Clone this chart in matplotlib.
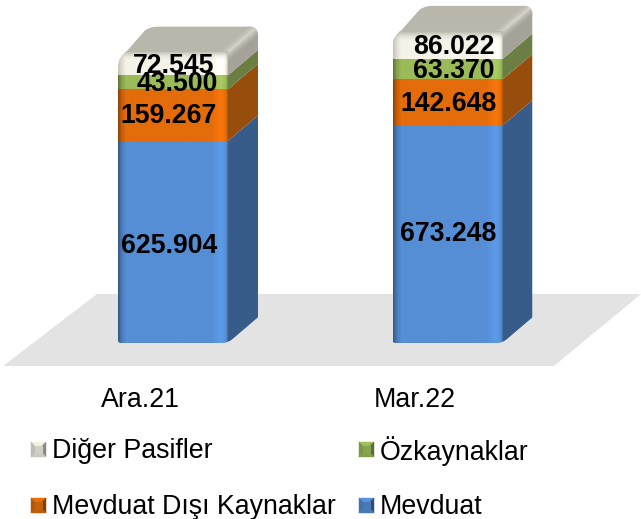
import numpy as np
import matplotlib
matplotlib.use("Agg")
import matplotlib.pyplot as plt
from matplotlib.path import Path
from matplotlib.patches import PathPatch, Polygon

plt.rcParams['font.family'] = ['Liberation Sans', 'DejaVu Sans']

# Data
categories = ["Ara.21", "Mar.22"]
mevduat = [625904, 673248]
mevduat_disi = [159267, 142648]
ozkaynak = [43500, 63370]
diger = [72545, 86022]
series_names = ["Mevduat", "Mevduat Dışı Kaynaklar", "Özkaynaklar", "Diğer Pasifler"]

# Styling: front, side, and label nudges (px)
front_cols = ["#558ed5", "#e46c0a", "#9bbb59", "#eeece1"]
side_cols = ["#375c8a", "#974d0b", "#6b7f45", "#a5a399"]
top_col = "#b9b6ac"
nudge = [[(-4, 4), (-4, 1), (4, 2), (1, 2)],
         [(1, 0), (1, 1), (6, 1.5), (6, 2)]]

W, H = 641, 519
BASE = 343          # px row of value 0
SCALE = 0.000323    # px per unit
STEP = 274.5        # px between categories
X0 = 173            # px of first category
BAR_W = 110 / STEP
DX = 30 / STEP
DY = 25.5 / SCALE
RX = 1 / STEP       # one px in x units
RY = 1 / SCALE      # one px in y units


def rgb(c):
    return np.array(matplotlib.colors.to_rgb(c))


def shade_row(col, edge=0.62):
    # horizontal lighting across the front of a bar
    pos = [0, 0.03, 0.07, 0.85, 0.94, 0.985, 1]
    fac = [edge, 0.85 + (edge - 0.62) * 0.3, 1, 1, 1.1, 1.0, 0.78]
    t = np.linspace(0, 1, 200)
    f = np.interp(t, pos, fac)
    return np.clip(rgb(col)[None, :] * f[:, None], 0, 1)


def silhouette(x0, x1, top):
    r = 9
    verts = [
        (x0, 3 * RY), (x0, 0), (x0 + 3 * RX, 0),
        (x1 - 8 * RX, 0), (x1, 0), (x1 + 5 * RX, 4 * RY),
        (x1 + DX, DY), (x1 + DX, top + DY - r * RY), (x1 + DX, top + DY), (x1 + DX - r * RX, top + DY),
        (x0 + DX + 11 * RX, top + DY), (x0 + DX + 3 * RX, top + DY), (x0 + DX - 3 * RX, top + DY - 4 * RY),
        (x0 + 9 * RX, top + 1 * RY), (x0, top - 5 * RY), (x0, top - 15 * RY),
        (x0, 3 * RY), (x0, 3 * RY),
    ]
    codes = [Path.MOVETO, Path.CURVE3, Path.CURVE3,
             Path.LINETO, Path.CURVE3, Path.CURVE3,
             Path.LINETO, Path.LINETO, Path.CURVE3, Path.CURVE3,
             Path.LINETO, Path.CURVE3, Path.CURVE3,
             Path.LINETO, Path.CURVE3, Path.CURVE3,
             Path.LINETO, Path.CLOSEPOLY]
    return Path(verts, codes)


fig = plt.figure(figsize=(W / 100, H / 100), dpi=100)

# background layer in pixel coordinates: floor and legend
bg = fig.add_axes([0, 0, 1, 1], zorder=0)
bg.set_xlim(0, W)
bg.set_ylim(H, 0)
bg.axis('off')
bg.add_patch(Polygon([(3, 366), (554, 366), (641, 294), (97, 294)], closed=True, fc="#e3e3e3", ec="none"))

# bars axes, bottom edge on the value 0
ax = fig.add_axes([0, 1 - BASE / H, 1, BASE / H], zorder=1)
ax.patch.set_visible(False)
for s in ax.spines.values():
    s.set_visible(False)
ax.set_yticks([])

stack = np.array([mevduat, mevduat_disi, ozkaynak, diger], dtype=float)
x = np.arange(len(categories), dtype=float)
bottoms = np.vstack([np.zeros(len(x)), np.cumsum(stack, axis=0)[:-1]])
totals = stack.sum(axis=0)

for i, xc in enumerate(x):
    x0, x1 = xc - BAR_W / 2, xc + BAR_W / 2
    clip = PathPatch(silhouette(x0, x1, totals[i]), fc="none", ec="none", transform=ax.transData)
    ax.add_patch(clip)

    for j in range(stack.shape[0]):
        b, v = bottoms[j, i], stack[j, i]
        bars = ax.bar(xc, v, BAR_W, bottom=b, color=front_cols[j], linewidth=0, zorder=2)
        bars[0].set_clip_path(clip)
        img = shade_row(front_cols[j], 0.8 if j == 3 else 0.62)[None, :, :]
        if j == 3:
            # soft bevel where the cap meets the top face
            rows = 40
            ramp = np.clip(np.linspace(0, 1, rows) / 0.4, 0, 1)[:, None, None]
            img = np.repeat(img, rows, axis=0)
            img = rgb(top_col)[None, None, :] * (1 - ramp) ** 2 + np.minimum(img * 1.03, 1) * (1 - (1 - ramp) ** 2)
            img = np.clip(img, 0, 1)
        im = ax.imshow(img, extent=(x0, x1, b, b + v), aspect='auto', origin='upper', zorder=3, interpolation='bilinear')
        im.set_clip_path(clip)

        side = Polygon([(x1, b), (x1 + DX, b + DY), (x1 + DX, b + v + DY), (x1, b + v)],
                       closed=True, fc=side_cols[j], ec="none", zorder=2)
        ax.add_patch(side)
        side.set_clip_path(clip)

    t = totals[i]
    face = Polygon([(x0, t), (x0 + DX, t + DY), (x1 + DX, t + DY), (x1, t)], closed=True, fc=top_col, ec="none", zorder=2.5)
    ax.add_patch(face)
    face.set_clip_path(clip)

    # light band along the rounded edge between top face and side
    hi = rgb("#dcdad0")
    for k in range(9, -1, -1):
        a = (1 - k / 10) ** 1.5
        side_c = rgb(side_cols[3]) * (1 - a) + hi * a
        top_c = rgb(top_col) * (1 - a) + hi * a
        strip_s = Polygon([(x1, t - (k + 1) * RY), (x1 + DX, t + DY - (k + 1) * RY), (x1 + DX, t + DY - k * RY), (x1, t - k * RY)],
                          closed=True, fc=side_c, ec="none", zorder=2.6)
        strip_t = Polygon([(x1 - (k + 1) * RX, t), (x1 + DX - (k + 1) * RX, t + DY), (x1 + DX - k * RX, t + DY), (x1 - k * RX, t)],
                          closed=True, fc=top_c, ec="none", zorder=2.6)
        for p in (strip_s, strip_t):
            ax.add_patch(p)
            p.set_clip_path(clip)

    for j in range(stack.shape[0]):
        dx, dy = nudge[i][j]
        ax.annotate(f"{int(stack[j, i]):,}".replace(",", "."),
                    (xc, bottoms[j, i] + stack[j, i] / 2), xytext=(dx * 0.72, -dy * 0.72),
                    textcoords='offset points', ha='center', va='center',
                    fontsize=19.2, fontweight='bold', color='black', zorder=5)

ax.set_xlim(-X0 / STEP, (W - X0) / STEP)
ax.set_ylim(0, BASE / SCALE)
ax.set_xticks(x - 33 / STEP, categories)
ax.tick_params(axis='x', length=0, pad=31.5, labelsize=19.3)

# legend: bevel-shaded keys
legend_order = [3, 2, 1, 0]
legend_pos = [(31, 442), (359, 442), (31, 498), (359, 498)]
for idx, (sx, sy) in zip(legend_order, legend_pos):
    s = 15
    cx, cy = sx + s / 2, sy + s / 2
    c = rgb(front_cols[idx])
    d = rgb(side_cols[idx])
    pts = [(sx, sy), (sx + s, sy), (sx + s, sy + s), (sx, sy + s)]
    tones = [np.clip(c * 1.02, 0, 1), d * 0.85, c * 0.85, c * 0.8]
    for k in range(4):
        bg.add_patch(Polygon([pts[k], pts[(k + 1) % 4], (cx, cy)], closed=True, fc=tones[k], ec=tones[k], lw=0.3))
    bg.add_patch(Polygon([(cx - 4, cy - 4), (cx + 4, cy - 4), (cx + 4, cy + 4), (cx - 4, cy + 4)], closed=True,
                         fc=(c * 0.6 + d * 0.4), ec="none"))
    bg.text(sx + s + 5.5, cy + 1.5, series_names[idx], fontsize=19.3, ha='left', va='center', color='black')

fig.savefig('out.png', dpi=100)
plt.close(fig)
